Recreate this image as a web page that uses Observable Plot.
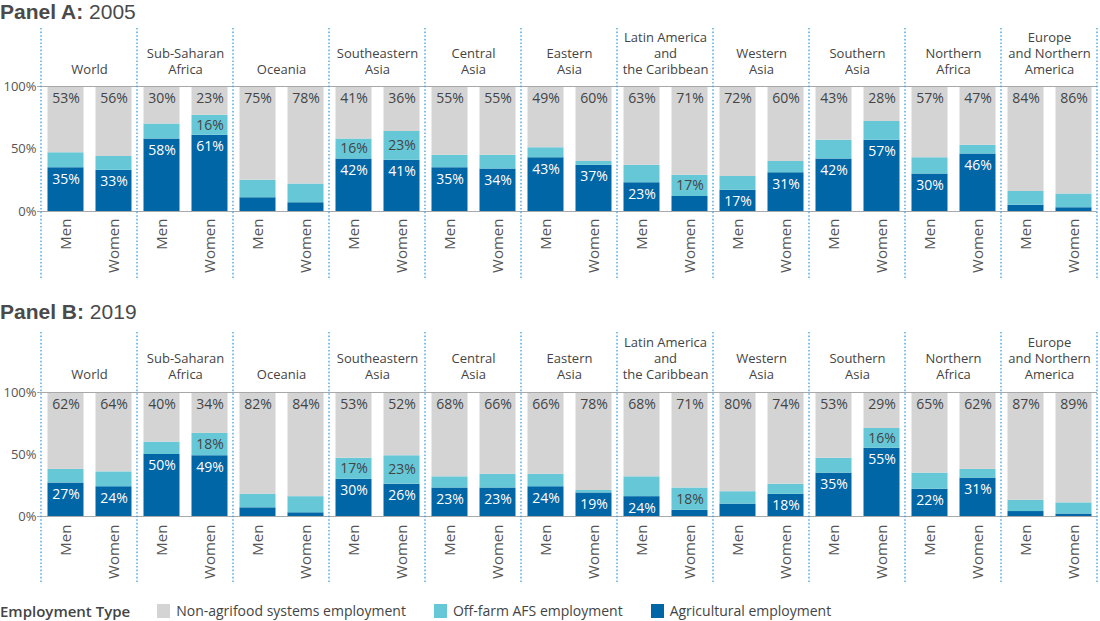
<!DOCTYPE html>
<html><head><meta charset="utf-8">
<script src="https://cdn.jsdelivr.net/npm/d3@7"></script>
<script src="https://cdn.jsdelivr.net/npm/@observablehq/plot@0.6"></script>
<style>
body{margin:0;background:#fff;font-family:"Open Sans",sans-serif;color:#444;}
#wrap{position:relative;width:1100px;height:621px;overflow:hidden;background:#fff;}
.title{position:absolute;left:0;font-family:"Liberation Sans",Arial,sans-serif;font-size:21px;line-height:normal;color:#4a4a4a;white-space:nowrap;}
.title b{font-weight:700;}
.panel{position:absolute;left:0;}
#legend{position:absolute;left:0;top:600px;height:21px;display:flex;align-items:center;font-size:14px;color:#444;white-space:nowrap;}
#legend .lt{font-weight:600;font-size:15px;margin-right:27px;}
.lg-swatches{margin:0 !important;min-height:0 !important;font-size:14px !important;font-family:"Open Sans",sans-serif !important;color:#444 !important;}
.lg-swatch{margin-right:28px !important;}
.lg-swatch > svg{margin-right:6px !important;}
</style></head>
<body><div id="wrap">
<div class="title" style="top:0px"><b>Panel A:</b> 2005</div>
<div class="panel" id="pA" style="top:24px"></div>
<div class="title" style="top:300px"><b>Panel B:</b> 2019</div>
<div class="panel" id="pB" style="top:328px"></div>
<div id="legend"><span class="lt">Employment Type</span></div>
</div>
<script>
const regions = ["World","Sub-Saharan Africa","Oceania","Southeastern Asia","Central Asia","Eastern Asia","Latin America and the Caribbean","Western Asia","Southern Asia","Northern Africa","Europe and Northern America"];
const regionLabels = ["World","Sub-Saharan\nAfrica","Oceania","Southeastern\nAsia","Central\nAsia","Eastern\nAsia","Latin America\nand\nthe Caribbean","Western\nAsia","Southern\nAsia","Northern\nAfrica","Europe\nand Northern\nAmerica"];
const sexes = ["Men","Women"];
const types = ["Agricultural employment","Off-farm AFS employment","Non-agrifood systems employment"];
const typeColors = ["#0066a6","#66c8d7","#d4d4d4"];
const legendOrder = ["Non-agrifood systems employment","Off-farm AFS employment","Agricultural employment"];
const legendColors = ["#d4d4d4","#66c8d7","#0066a6"];
const TOTAL = 100;

// 2005 (order: region, Men then Women)
const ag2005  = [35,33, 58,61, 11,7, 42,41, 35,34, 43,37, 23,12, 17,31, 42,57, 30,46, 5,3];
const off2005 = [12,11, 12,16, 14,15, 16,23, 10,11, 8,3, 14,17, 11,9, 15,15, 13,7, 11,11];
const non2005 = [53,56, 30,23, 75,78, 41,36, 55,55, 49,60, 63,71, 72,60, 43,28, 57,47, 84,86];
const agLabel2005  = [35,33, 58,61, null,null, 42,41, 35,34, 43,37, 23,null, 17,31, 42,57, 30,46, null,null];
const offLabel2005 = [null,null, null,16, null,null, 16,23, null,null, null,null, null,17, null,null, null,null, null,null, null,null];

// 2019
const ag2019  = [27,24, 50,49, 7,3, 30,26, 23,23, 24,19, 16,5, 10,18, 35,55, 22,31, 4,2];
const off2019 = [11,12, 10,18, 11,13, 17,23, 9,11, 10,2, 16,18, 10,8, 12,16, 13,7, 9,9];
const non2019 = [62,64, 40,34, 82,84, 53,52, 68,66, 66,78, 68,71, 80,74, 53,29, 65,62, 87,89];
const agLabel2019  = [27,24, 50,49, null,null, 30,26, 23,23, 24,19, 24,null, null,18, 35,55, 22,31, null,null];
const offLabel2019 = [null,null, null,18, null,null, 17,23, null,null, null,null, null,18, null,null, null,16, null,null, null,null];

function rowsFor(ag, off, non, agLab, offLab){
  return ag.map((a,i)=>({region: regions[Math.floor(i/2)], sex: sexes[i%2], ag:a, off:off[i], non:non[i], agLab:agLab[i], offLab:offLab[i]}));
}
function segmentsFor(rows){
  return rows.flatMap(r => [
    {region:r.region, sex:r.sex, type:types[0], value:r.ag},
    {region:r.region, sex:r.sex, type:types[1], value:r.off},
    {region:r.region, sex:r.sex, type:types[2], value:TOTAL - r.ag - r.off}
  ]);
}

function panel(rows, opts){
  const segs = segmentsFor(rows);
  const plot = Plot.plot({
    width: 1100, height: opts.height, marginTop: opts.mt, marginBottom: opts.mb, marginLeft: 39.5, marginRight: 1,
    style: {fontFamily: '"Open Sans", sans-serif', fontSize: "14px", color: "#444", background: "white", overflow: "visible"},
    fx: {domain: regions, paddingInner: 0, paddingOuter: 0},
    x: {domain: sexes, paddingInner: 0.25, paddingOuter: 0.125},
    y: {domain: [0, TOTAL]},
    color: {domain: types, range: typeColors},
    marks: [
      Plot.barY(segs, Plot.stackY({fx:"region", x:"sex", y:"value", fill:"type", order: types})),
      Plot.ruleY([0, TOTAL], {stroke:"#a8a8a8", strokeWidth:1}),
      Plot.axisY({ticks:[0,50,100], tickFormat: d=>d+"%", tickSize:0, tickPadding:5, fontSize:13, label:null, fill:"#555"}),
      Plot.axisY({ticks:[0,100], tickSize:4, tickFormat: ()=>"", label:null, stroke:"#a8a8a8"}),
      Plot.axisX({tickRotate:-90, tickSize:0, tickPadding:opts.xPad, fontSize:15, label:null, fill:"#555"}),
      Plot.axisFx({anchor:"top", tickSize:0, tickPadding:opts.fxPad, label:null, fontSize:13, lineHeight:1.23, tickFormat: d=>regionLabels[regions.indexOf(d)], fill:"#444"}),
      Plot.text(rows, {fx:"region", x:"sex", frameAnchor:"top", dy:7, text: d=>d.non+"%", fill:"#444", fontSize:14}),
      Plot.text(rows.filter(d=>d.offLab!=null), {fx:"region", x:"sex", y: d=>d.ag + d.off/2, text: d=>d.offLab+"%", fill:"#444", fontSize:14}),
      Plot.text(rows.filter(d=>d.agLab!=null), {fx:"region", x:"sex", y:"ag", dy:11.5, text: d=>d.agLab+"%", fill:"white", fontSize:14})
    ]
  });
  // dotted region separators at facet boundaries, from the fx scale
  const fx = plot.scale("fx");
  const bounds = regions.map(r => fx.apply(r));
  bounds.push(fx.apply(regions[regions.length-1]) + fx.bandwidth);
  const svg = d3.select(plot.tagName.toLowerCase()==="svg" ? plot : plot.querySelector("svg"));
  svg.append("g").selectAll("line").data(bounds).join("line")
    .attr("x1", d=>d).attr("x2", d=>d).attr("y1", 4).attr("y2", 254)
    .attr("stroke", "#3d9fe3").attr("stroke-width", 1.3).attr("stroke-dasharray", "1.6,2");
  return plot;
}

document.getElementById("pA").append(panel(rowsFor(ag2005, off2005, non2005, agLabel2005, offLabel2005), {height:280, mt:62, mb:93, xPad:7, fxPad:13}));
document.getElementById("pB").append(panel(rowsFor(ag2019, off2019, non2019, agLabel2019, offLabel2019), {height:272, mt:64, mb:84, xPad:8, fxPad:14}));

const lg = Plot.legend({color:{type:"categorical", domain: legendOrder, range: legendColors}, swatchWidth:13, swatchHeight:14, className:"lg", style:{fontSize:"14px", fontFamily:'"Open Sans", sans-serif', color:"#444"}});
document.getElementById("legend").append(lg);
</script>
</body></html>
